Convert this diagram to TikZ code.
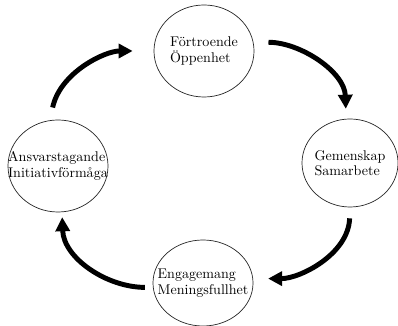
\documentclass[tikz,border=0pt]{standalone}
\usepackage{tikz}
\usetikzlibrary{positioning,shapes.geometric,arrows.meta}

\begin{document}
\begin{tikzpicture}[
				x=0.025cm, y=0.025cm,
				ovalnode/.style={ellipse, draw=black!85, line width=0.5pt, minimum width=2.5cm, minimum height=2.3cm, inner xsep=-14pt, inner ysep=0pt, align=left, font=\fontsize{10}{11}\selectfont},
				cyclearrow/.style={line width=3.5pt, -{Triangle[length=10pt,width=10pt]}},
				]
				\useasboundingbox (0,0) rectangle (398,326);
				%Nodes
				\node[ovalnode](fortroende) at (204,275){Förtroende\\Öppenhet};
				\node[ovalnode, minimum width=2.4cm, minimum height=2.2cm](gemenskap) at (350,163){Gemenskap\\Samarbete};
				\node[ovalnode, minimum height=2.15cm](engagemang) at (203,43){Engagemang\\Meningsfullhet};
				\node[ovalnode](ansvar) at (58,160){Ansvarstagande\\Initiativförmåga};
				
				%Lines
				
				\draw[cyclearrow, shorten <=13*0.025cm, shorten >=21*0.025cm] (ansvar.100) to[out=78,in=180] (fortroende.west);
				\draw[cyclearrow, shorten <=15*0.025cm, shorten >=10*0.025cm] (fortroende.10) to[out=0,in=92] (gemenskap.95);
				\draw[cyclearrow, shorten <=11*0.025cm, shorten >=15*0.025cm] (gemenskap.south) to[out=-92,in=0] (engagemang.5);
				\draw[cyclearrow, shorten <=8*0.025cm, shorten >=5*0.025cm] (engagemang.185) to[out=180,in=-88] (ansvar.-85);
				
			\end{tikzpicture}
\end{document}
